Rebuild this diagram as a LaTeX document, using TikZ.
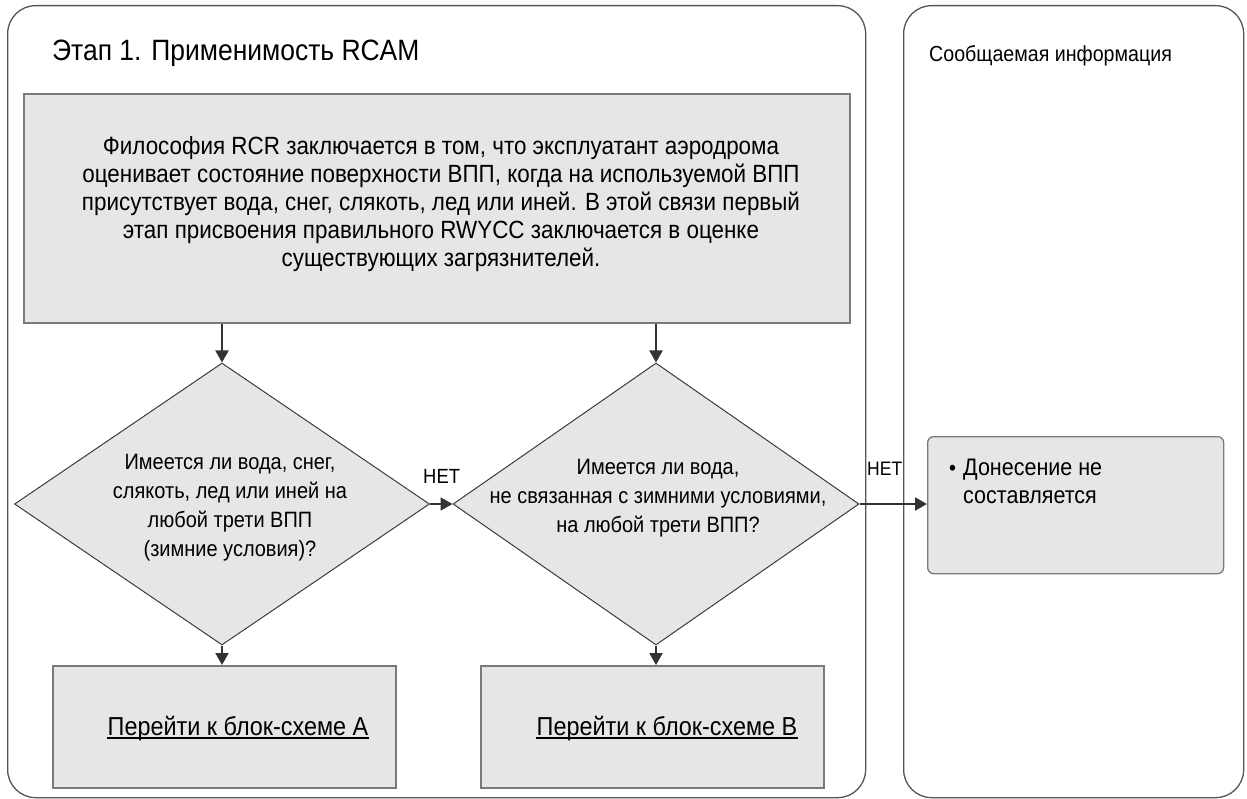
\documentclass[tikz,border=0pt]{standalone}
\usepackage{fontspec}
\setmainfont{Liberation Sans}[FakeStretch=0.9]
\usetikzlibrary{shapes.geometric,arrows.meta}

\definecolor{boxfill}{HTML}{E6E6E6}
\definecolor{boxline}{HTML}{7A7A7A}
\definecolor{shapeline}{HTML}{3C3C3C}
\definecolor{laneline}{HTML}{555555}
\definecolor{flowline}{HTML}{333333}

\begin{document}
\begin{tikzpicture}[x=1pt,y=-1pt,
  lane/.style={draw=laneline, line width=1.3pt, rounded corners=28pt,
    anchor=north west, inner sep=0pt},
  procbox/.style={draw=boxline, fill=boxfill, line width=1.6pt,
    anchor=north west, inner sep=0pt},
  decision/.style={diamond, draw=shapeline, fill=boxfill, line width=1pt,
    inner sep=0pt},
  reportbox/.style={draw=boxline, fill=boxfill, line width=1.3pt,
    rounded corners=6pt, anchor=north west, inner sep=0pt},
  body/.style={inner sep=0pt, align=center, font=\fontsize{24.9}{28}\selectfont},
  dtext/.style={inner sep=0pt, align=center, font=\fontsize{22.2}{29}\selectfont},
  flow/.style={draw=flowline, line width=2pt,
    -{Triangle[length=12pt,width=13pt]}},
  nolabel/.style={inner sep=0pt, font=\fontsize{20.5}{24}\selectfont}
]
\useasboundingbox (0,0) rectangle (1247,799);

% swimlanes
\node[lane, minimum width=858pt, minimum height=792pt] (lane1) at (7,5) {};
\node[lane, minimum width=340pt, minimum height=792pt] (lane2) at (903,5) {};
\node[anchor=base west, inner sep=0pt, font=\fontsize{29.4}{32}\selectfont]
  (title1) at (52,61) {Этап 1. Применимость RCAM};
\node[anchor=base west, inner sep=0pt, font=\fontsize{21.8}{26}\selectfont]
  (title2) at (929,62) {Сообщаемая информация};

% introduction box
\node[procbox, minimum width=826pt, minimum height=229pt] (intro) at (23,93) {};
\node[body] (introtext) at (441,204) {Философия RCR заключается в том, что эксплуатант аэродрома\\
оценивает состояние поверхности ВПП, когда на используемой ВПП\\
присутствует вода, снег, слякоть, лед или иней. В этой связи первый\\
этап присвоения  правильного RWYCC заключается в оценке\\
существующих загрязнителей.};

% decisions
\node[decision, minimum width=415pt, minimum height=282pt] (d1) at (222,504) {};
\node[dtext] (d1text) at (230,508)
  {Имеется ли вода, снег,\\ слякоть, лед или иней на\\ любой трети ВПП\\ (зимние условия)?};
\node[decision, minimum width=406pt, minimum height=282pt] (d2) at (656,504) {};
\node[dtext] (d2text) at (658,498)
  {Имеется ли вода,\\ не связанная с зимними условиями,\\ на любой трети ВПП?};

% targets
\node[procbox, minimum width=343pt, minimum height=122pt] (goA) at (52,665) {};
\node[body, anchor=base, font=\fontsize{26}{30}\selectfont] (goAtext) at (238,735) {Перейти к блок-схеме А};
\draw[line width=1.8pt] ([yshift=-3pt]goAtext.base west) -- ([yshift=-3pt]goAtext.base east);
\node[procbox, minimum width=343pt, minimum height=122pt] (goB) at (480,665) {};
\node[body, anchor=base, font=\fontsize{26}{30}\selectfont] (goBtext) at (667,735) {Перейти к блок-схеме В};
\draw[line width=1.8pt] ([yshift=-3pt]goBtext.base west) -- ([yshift=-3pt]goBtext.base east);

% report box
\node[reportbox, minimum width=296pt, minimum height=137pt] (report) at (927,436) {};
\node[anchor=base west, inner sep=0pt, font=\fontsize{22}{28}\selectfont] (bullet) at (949,475) {•};
\node[anchor=base west, inner sep=0pt, align=left, font=\fontsize{23.9}{28}\selectfont]
  (reporttext) at (963,503) {Донесение не\\составляется};

% connectors
\draw[flow] (intro.south -| d1.north) -- (d1.north);
\draw[flow] (intro.south -| d2.north) -- (d2.north);
\draw[flow] (d1.east) -- (d2.west);
\draw[flow] (d2.east) -- (d2.east -| report.west);
\draw[flow] (d1.south) -- (goA.north -| d1.south);
\draw[flow] (d2.south) -- (goB.north -| d2.south);

\node[nolabel, anchor=base west] (no1) at (423,483) {НЕТ};
\node[nolabel, anchor=base west, font=\fontsize{19.5}{24}\selectfont] (no2) at (867,475) {НЕТ};
\end{tikzpicture}
\end{document}
